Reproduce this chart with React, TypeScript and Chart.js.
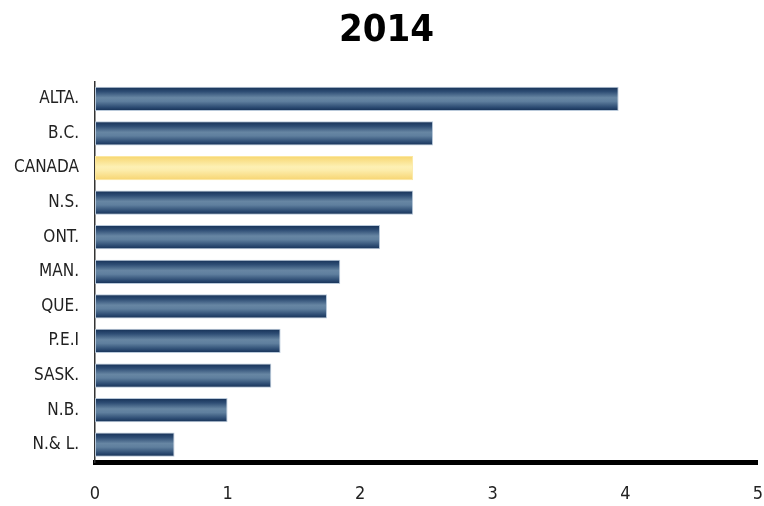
import React, { useEffect, useRef } from "react";
import { Chart, registerables } from "chart.js";

Chart.register(...registerables);

const categories = ["ALTA.", "B.C.", "CANADA", "N.S.", "ONT.", "MAN.", "QUE.", "P.E.I", "SASK.", "N.B.", "N.& L."];
const values = [3.95, 2.55, 2.4, 2.4, 2.15, 1.85, 1.75, 1.4, 1.33, 1.0, 0.6];
const highlight = "CANADA";
const xTicks = [0, 1, 2, 3, 4, 5];
const title = "2014";

const FONT = "'DejaVu Sans Condensed', 'Liberation Sans Narrow', 'DejaVu Sans', sans-serif";
const BAR_FRAC = 0.7;

export default function App() {
  const ref = useRef<HTMLCanvasElement | null>(null);

  useEffect(() => {
    if (!ref.current) return;
    const chart = new Chart(ref.current, {
      type: "bar",
      data: {
        labels: categories,
        datasets: [
          {
            data: values,
            categoryPercentage: 1,
            barPercentage: BAR_FRAC,
            borderWidth: 1,
            borderSkipped: false,
            borderColor: (ctx: any) =>
              categories[ctx.dataIndex] === highlight ? "#fbe7a0" : "#b9c9da",
            backgroundColor: (ctx: any) => {
              const ch = ctx.chart;
              const y = ch.scales && ch.scales.y;
              const isHi = categories[ctx.dataIndex] === highlight;
              const fallback = isHi ? "#fbe38f" : "#34567c";
              if (!y || ctx.type !== "data") return fallback;
              const c = y.getPixelForValue(ctx.dataIndex);
              const band = Math.abs(y.getPixelForValue(1) - y.getPixelForValue(0));
              const h = (band * BAR_FRAC) / 2;
              if (!isFinite(c) || !isFinite(h) || h <= 0) return fallback;
              const g = ch.ctx.createLinearGradient(0, c - h, 0, c + h);
              if (isHi) {
                g.addColorStop(0, "#f7d66e");
                g.addColorStop(0.45, "#fdf0b4");
                g.addColorStop(0.6, "#fcecaa");
                g.addColorStop(1, "#f7d470");
              } else {
                g.addColorStop(0, "#142f55");
                g.addColorStop(0.2, "#2e4d74");
                g.addColorStop(0.45, "#6786a3");
                g.addColorStop(0.6, "#5f7f9e");
                g.addColorStop(0.85, "#2c4b72");
                g.addColorStop(1, "#132e53");
              }
              return g;
            },
          },
        ],
      },
      options: {
        indexAxis: "y",
        animation: false,
        responsive: true,
        maintainAspectRatio: false,
        layout: { padding: { left: 9, right: 0, top: 0, bottom: 0 } },
        plugins: {
          legend: { display: false },
          tooltip: { enabled: false },
          title: {
            display: true,
            text: title,
            color: "#000",
            font: { family: FONT, size: 38, weight: "bold" },
            padding: { top: 8, bottom: 28 },
          },
        },
        scales: {
          x: {
            type: "linear",
            min: 0,
            max: 5,
            afterBuildTicks: (s: any) => {
              s.ticks = xTicks.map((v) => ({ value: v }));
            },
            afterFit: (s: any) => {
              s.height = 44;
            },
            grid: { display: false, drawTicks: true, tickLength: 21 },
            border: { display: true, color: "#000", width: 5 },
            ticks: {
              color: "#222",
              padding: 1,
              font: { family: FONT, size: 18 },
            },
          },
          y: {
            type: "category",
            afterFit: (s: any) => {
              s.width = 86;
            },
            grid: { display: false, drawTicks: false },
            border: { display: true, color: "#333", width: 1.5 },
            ticks: {
              color: "#222",
              padding: 16,
              font: { family: FONT, size: 17 },
            },
          },
        },
      },
    });
    chart.update();
    return () => chart.destroy();
  }, []);

  return (
    <div style={{ position: "absolute", left: 0, top: 0, width: 764, height: 506, background: "#fff" }}>
      <canvas ref={ref} />
    </div>
  );
}
